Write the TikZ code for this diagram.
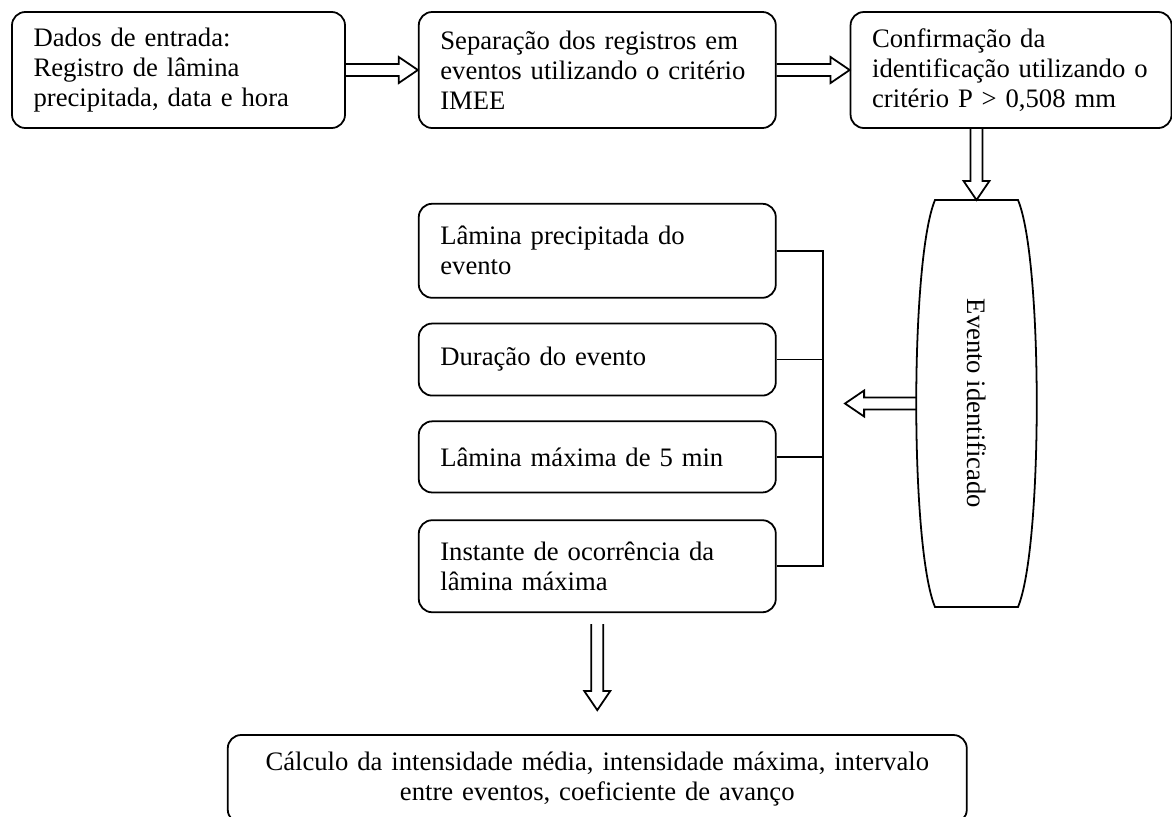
\documentclass[tikz,border=0pt]{standalone}
\usepackage{fontspec}
\setmainfont{Liberation Serif}
\usepackage{graphicx}
\usepackage{tikz}
\usetikzlibrary{positioning,calc}
\newcommand{\fatarrow}[2]{%
  \draw[fatflow] let \p1=(#1), \p2=(#2),
    \n1={veclen(\x2-\x1,\y2-\y1)}, \n2={atan2(\y2-\y1,\x2-\x1)} in
    [shift={(\p1)}, rotate=\n2]
    (0pt,2.7pt) -- (\n1-8.6pt,2.7pt) -- (\n1-8.6pt,5.85pt) -- (\n1,0pt)
    -- (\n1-8.6pt,-5.85pt) -- (\n1-8.6pt,-2.7pt) -- (0pt,-2.7pt);}

\begin{document}
\begin{tikzpicture}[
  x=0.45pt, y=-0.45pt,
  font=\fontsize{12}{13.5}\selectfont,
  block/.style={draw, rounded corners=6pt, line width=0.8pt, align=left,
    inner xsep=9.7pt, text width=#1},
  block/.default=141.25pt,
  link/.style={line width=0.8pt},
  fatflow/.style={draw, line width=0.8pt, line join=miter}
]
\useasboundingbox (0,0) rectangle (1172,816);
\node[block=130.45pt, minimum height=52.2pt] (input) at (178.5,70)
  {Dados de entrada:\\Registro de lâmina\\precipitada, data e hora};
\node[block, minimum height=52.2pt, right=32.4pt of input] (split)
  {Separação dos registros em\\eventos utilizando o critério\\IMEE};
\node[block=125.05pt, minimum height=52.2pt, right=32.85pt of split] (confirm)
  {Confirmação da\\identificação utilizando o\\critério P > 0,508 mm};
\node[block, minimum height=42.3pt, below=33.3pt of split] (depth)
  {Lâmina precipitada do\\evento};
\node[block, minimum height=32.4pt, below=10.8pt of depth] (duration)
  {Duração do evento};
\node[block, minimum height=32pt, below=10.8pt of duration] (peak)
  {Lâmina máxima de 5 min};
\node[block, minimum height=41.4pt, below=11.7pt of peak] (instant)
  {Instante de ocorrência da\\lâmina máxima};
\node[block=313.15pt, align=center, minimum height=39.6pt, below=54.45pt of instant] (result)
  {Cálculo da intensidade média, intensidade máxima, intervalo\\entre eventos, coeficiente de avanço};
\node[minimum width=37.35pt, minimum height=183.15pt, inner sep=0pt, outer sep=0pt] (event)
  at (976.5,403.5) {\rotatebox{-90}{Evento identificado}};
\draw[link] (event.north west) -- (event.north east)
  .. controls +(11.25pt,-27pt) and +(11.25pt,27pt) .. (event.south east)
  -- (event.south west)
  .. controls +(-11.25pt,27pt) and +(-11.25pt,-27pt) .. (event.north west) -- cycle;
\coordinate (rim) at ($(event.west)+(-8.4pt,0)$);
\coordinate (gather) at (845,403.5);
\coordinate (bus) at (823,403.5);
\fatarrow{input.east}{split.west}
\fatarrow{split.east}{confirm.west}
\fatarrow{event.north |- confirm.south}{event.north}
\fatarrow{rim}{gather}
\draw[link] (depth.east) -- (depth.east -| bus) -- (instant.east -| bus) -- (instant.east);
\draw[link] (duration.east) -- (duration.east -| bus);
\draw[link] (peak.east) -- (peak.east -| bus);
\fatarrow{$(instant.south)+(0,-5pt)$}{$(result.north)+(0,10.8pt)$}
\end{tikzpicture}
\end{document}
